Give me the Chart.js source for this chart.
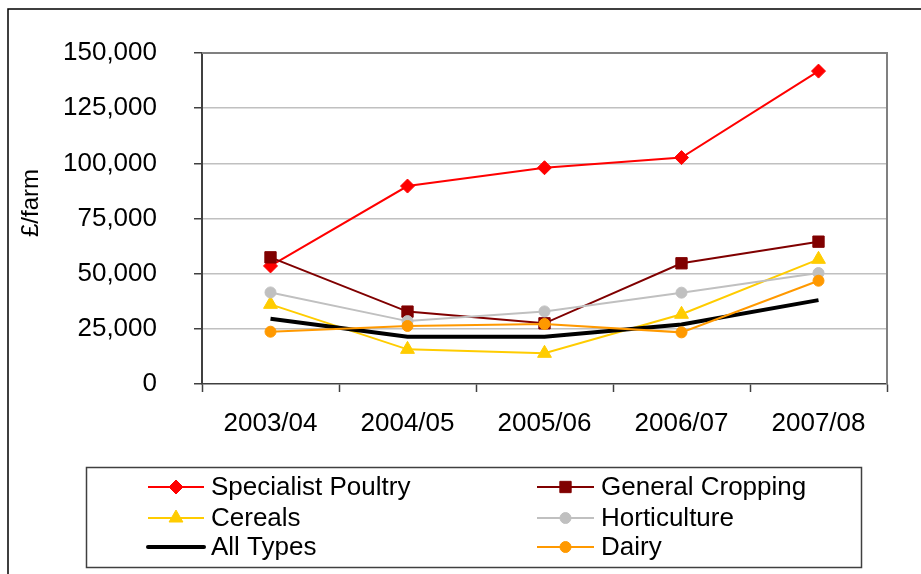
<!DOCTYPE html>
<html>
<head>
<meta charset="utf-8">
<script src="https://cdn.jsdelivr.net/npm/chart.js@4/dist/chart.umd.min.js"></script>
<style>
  html, body { margin: 0; padding: 0; background: #fff; }
  #wrap { position: relative; width: 921px; height: 574px; }
  canvas { display: block; }
</style>
</head>
<body>
<div id="wrap"><canvas id="c" width="921" height="574"></canvas></div>
<script>
// Farm business income per farm, by farm type
const years = ['2003/04', '2004/05', '2005/06', '2006/07', '2007/08'];

const specialistPoultry = [53500, 89700, 98000, 102600, 141800];
const generalCropping   = [57400, 32800, 27500, 54700, 64500];
const cereals           = [36100, 15700, 13900, 31600, 56500];
const horticulture      = [41500, 28500, 32900, 41400, 50300];
const allTypes          = [29600, 21400, 21400, 27000, 38000];
const dairy             = [23700, 26300, 27200, 23400, 46800];

const yTicks = [0, 25000, 50000, 75000, 100000, 125000, 150000];
const yTitle = '£/farm';

const FONT = '"Liberation Sans", Arial, sans-serif';

function series(label, data, color, style, radius, width) {
  return {
    label, data,
    borderColor: color,
    backgroundColor: color,
    pointBackgroundColor: color,
    pointBorderColor: color,
    pointStyle: style,
    pointRadius: radius,
    pointHoverRadius: radius,
    pointBorderWidth: 1,
    borderWidth: width,
    tension: 0,
    fill: false
  };
}

const datasets = [
  series('Specialist Poultry', specialistPoultry, '#FF0000', 'rectRot', 7, 2),
  series('General Cropping', generalCropping, '#800000', 'rect', 8, 2),
  series('Cereals', cereals, '#FFCC00', 'triangle', 8, 2),
  series('Horticulture', horticulture, '#C0C0C0', 'circle', 5.5, 2),
  series('All Types', allTypes, '#000000', false, 0, 4),
  series('Dairy', dairy, '#FF9900', 'circle', 5.5, 2)
];
// later series are painted over earlier ones
datasets.forEach((d, i) => { d.order = datasets.length - i; });

// plot frame, outer frame, axis title and boxed two-column key
const framePlugin = {
  id: 'frames',
  beforeDatasetsDraw(chart) {
    const { ctx, chartArea: a } = chart;
    ctx.save();
    ctx.strokeStyle = '#808080';
    ctx.lineWidth = 2;
    ctx.beginPath();
    ctx.moveTo(a.left, a.top);
    ctx.lineTo(a.right, a.top);
    ctx.lineTo(a.right, a.bottom);
    ctx.stroke();
    ctx.restore();
  },
  afterDraw(chart) {
    const { ctx } = chart;
    ctx.save();
    // outer frame
    ctx.strokeStyle = '#000';
    ctx.lineWidth = 1.5;
    ctx.beginPath();
    ctx.moveTo(8, 574);
    ctx.lineTo(8, 9);
    ctx.lineTo(921, 9);
    ctx.stroke();

    // value axis title, rotated
    ctx.save();
    ctx.translate(31, 203);
    ctx.rotate(-Math.PI / 2);
    ctx.font = '24px ' + FONT;
    ctx.fillStyle = '#000';
    ctx.textAlign = 'center';
    ctx.textBaseline = 'middle';
    ctx.fillText(yTitle, 0, 0);
    ctx.restore();

    // key box
    ctx.strokeStyle = '#404040';
    ctx.lineWidth = 1.5;
    ctx.strokeRect(86.5, 467.5, 775, 100);

    const cols = [{ x0: 148, x1: 204, tx: 211 }, { x0: 537, x1: 594, tx: 601 }];
    const rows = [487, 518, 547];
    ctx.font = '26px ' + FONT;
    ctx.textBaseline = 'middle';
    ctx.textAlign = 'left';
    chart.data.datasets.forEach((ds, i) => {
      const col = cols[i % 2];
      const y = rows[Math.floor(i / 2)];
      ctx.strokeStyle = ds.borderColor;
      ctx.lineWidth = ds.borderWidth;
      ctx.lineCap = ds.borderWidth > 2 ? 'round' : 'butt';
      ctx.beginPath();
      ctx.moveTo(col.x0, y);
      ctx.lineTo(col.x1, y);
      ctx.stroke();
      if (ds.pointStyle) {
        ctx.fillStyle = ds.pointBackgroundColor;
        ctx.strokeStyle = ds.pointBorderColor;
        ctx.lineWidth = 1;
        Chart.helpers.drawPoint(ctx, {
          pointStyle: ds.pointStyle, radius: ds.pointRadius, borderWidth: 1, rotation: 0
        }, (col.x0 + col.x1) / 2, y);
      }
      ctx.fillStyle = '#000';
      ctx.fillText(ds.label, col.tx, y + 1);
    });
    ctx.restore();
  }
};

new Chart(document.getElementById('c'), {
  type: 'line',
  data: { labels: years, datasets },
  plugins: [framePlugin],
  options: {
    responsive: false,
    animation: false,
    devicePixelRatio: 1,
    layout: { padding: { left: 0, top: 53, right: 34, bottom: 0 } },
    plugins: {
      legend: { display: false },
      tooltip: { enabled: false },
      title: { display: false }
    },
    scales: {
      x: {
        type: 'category',
        offset: true,
        afterFit(scale) { scale.height = 190; },
        grid: {
          offset: true,
          drawOnChartArea: false,
          drawTicks: true,
          tickLength: 8,
          tickColor: '#404040',
          tickWidth: 1.5
        },
        border: { display: true, color: '#404040', width: 1.5 },
        ticks: {
          color: '#000',
          font: { family: FONT, size: 26 },
          padding: 16,
          maxRotation: 0,
          autoSkip: false
        }
      },
      y: {
        min: 0,
        max: 150000,
        afterFit(scale) { scale.width = 202; },
        afterBuildTicks(scale) { scale.ticks = yTicks.map(v => ({ value: v })); },
        grid: {
          color: (c) => (c.tick && (c.tick.value === 0 || c.tick.value === 150000)) ? 'rgba(0,0,0,0)' : '#C0C0C0',
          lineWidth: 1.5,
          tickLength: 8,
          tickColor: '#404040',
          tickWidth: 1.5
        },
        border: { display: true, color: '#404040', width: 2 },
        ticks: {
          color: '#000',
          font: { family: FONT, size: 26 },
          padding: 37,
          callback: (v) => Number(v).toLocaleString('en-US')
        },
        title: { display: false }
      }
    }
  }
});
</script>
</body>
</html>
